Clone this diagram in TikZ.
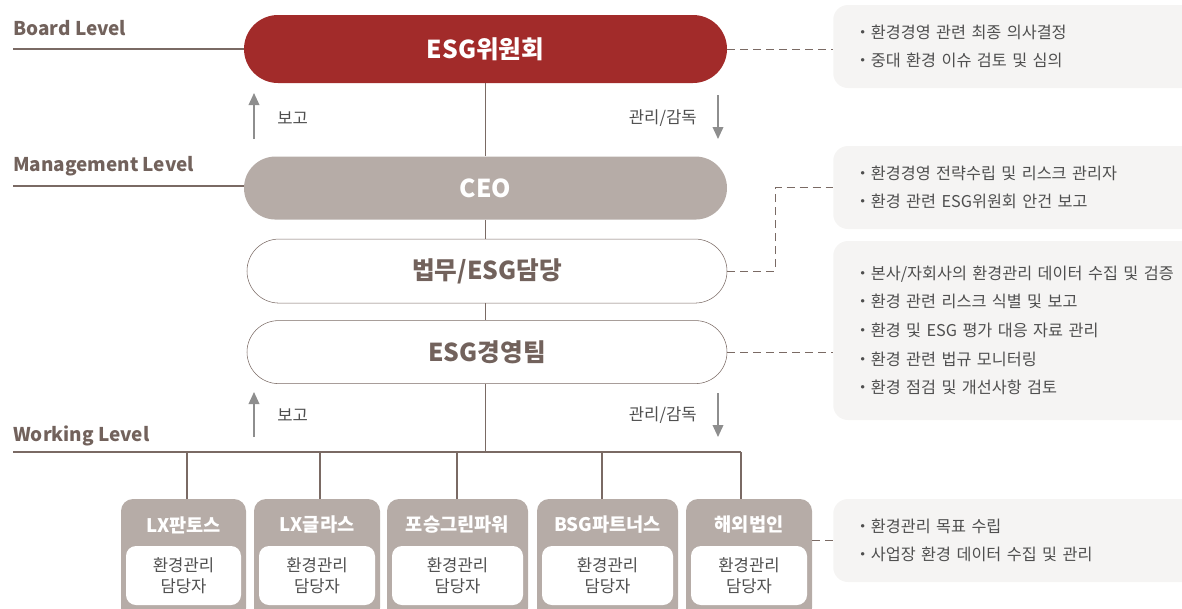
\documentclass[tikz,border=0pt]{standalone}
\usepackage{fontspec}
\setmainfont{Noto Sans CJK KR}
\usetikzlibrary{positioning,shapes.misc,arrows.meta,calc}

\definecolor{esgred}{HTML}{A22B2A}
\definecolor{ceogray}{HTML}{B6ACA7}
\definecolor{linebrown}{HTML}{7A6A64}
\definecolor{labelbrown}{HTML}{72625C}
\definecolor{arrowgray}{HTML}{8E8E8E}
\definecolor{notebg}{HTML}{F5F4F3}
\definecolor{notetext}{HTML}{4F4F4F}

\tikzset{
  pill/.style={rounded rectangle, minimum width=362.25pt, inner sep=0pt,
    font=\fontsize{18.5}{21}\selectfont\bfseries},
  levellabel/.style={anchor=base west, inner sep=0pt, text=labelbrown,
    font=\fontsize{14.2}{16}\selectfont\bfseries},
  orgline/.style={draw=linebrown, line width=0.8pt},
  dashline/.style={draw=linebrown, line width=0.75pt, dash pattern=on 6pt off 3.75pt},
  flowarrow/.style={draw=arrowgray, line width=1.1pt, -{Triangle[length=9pt,width=8pt]}},
  flowlabel/.style={inner sep=0pt, text=notetext, font=\fontsize{12.5}{14}\selectfont},
  notebox/.style={anchor=west, fill=notebg, rounded corners=11pt, text width=252pt,
    inner xsep=16pt, align=left, text=notetext, font=\fontsize{12.2}{21.5}\selectfont},
  subbox/.style={fill=ceogray, rounded corners=9pt, minimum height=90.75pt, inner sep=0pt},
  subhead/.style={inner sep=0pt, text=white, font=\fontsize{14}{16}\selectfont\bfseries},
  subinner/.style={fill=white, rounded corners=7.5pt, minimum height=44.25pt, inner sep=0pt,
    align=center, text=notetext, font=\fontsize{12.5}{15.75}\selectfont}
}

\begin{document}
\begin{tikzpicture}[x=0.75pt, y=-0.75pt]
\useasboundingbox (0,0) rectangle (1182,608);

% levels
\node[levellabel] (boardlvl) at (13,35) {Board Level};
\node[levellabel] (mgmtlvl) at (13,171) {Management Level};
\node[levellabel] (worklvl) at (13,441) {Working Level};

% main chain
\node[pill, fill=esgred, text=white, minimum height=51pt] (committee) at (485.5,49) {ESG위원회};
\node[pill, fill=ceogray, text=white, minimum height=47.25pt, below=54.75pt of committee] (ceo) {CEO};
\node[pill, draw=linebrown, fill=white, text=labelbrown, minimum height=48pt, minimum width=360pt,
  below=14.25pt of ceo, xshift=1.125pt] (legal) {법무/ESG담당};
\node[pill, draw=linebrown, fill=white, text=labelbrown, minimum height=47.25pt, minimum width=360pt,
  below=12.75pt of legal] (team) {ESG경영팀};

\coordinate (boardline) at (13,49);
\coordinate (mgmtline) at (13,186);
\coordinate (bus) at (13,452);
\draw[orgline] (boardline) -- (committee.west);
\draw[orgline] (mgmtline) -- (mgmtline -| ceo.west);
\draw[orgline] (committee.south) -- (ceo.north);
\draw[orgline] (ceo.south) -- (ceo.south |- legal.north);
\draw[orgline] (legal.south -| ceo.south) -- (ceo.south |- team.north);
\draw[orgline] (team.south -| ceo.south) -- (bus -| ceo.south);

% report / supervise arrows
\coordinate (rep1a) at (254,139); \coordinate (rep1b) at (254,93);
\coordinate (sup1a) at (718,95);  \coordinate (sup1b) at (718,139);
\coordinate (rep2a) at (254,437); \coordinate (rep2b) at (254,392);
\coordinate (sup2a) at (718,393); \coordinate (sup2b) at (718,437);
\draw[flowarrow] (rep1a) -- (rep1b);
\draw[flowarrow] (sup1a) -- (sup1b);
\draw[flowarrow] (rep2a) -- (rep2b);
\draw[flowarrow] (sup2a) -- (sup2b);
\node[flowlabel, anchor=west] (rep1t) at (277,118) {보고};
\node[flowlabel, anchor=east] (sup1t) at (697,118) {관리/감독};
\node[flowlabel, anchor=west] (rep2t) at (277,415) {보고};
\node[flowlabel, anchor=east] (sup2t) at (697,415) {관리/감독};

% subsidiaries
\foreach \n/\cx/\w/\lx/\name in {1/183.5/125/187/LX판토스, 2/317/126/320/LX글라스,
    3/457.5/141/457/포승그린파워, 4/607.5/141/602/BSG파트너스, 5/749/126/741/해외법인}{
  \node[subbox, minimum width=\w*0.75pt] (sub\n) at (\cx,559.5) {};
  \node[subhead] (head\n) at (\cx,525) {\name};
  \node[subinner, minimum width=(\w-10)*0.75pt] (inner\n) at (\cx,575.5) {환경관리\\담당자};
  \coordinate (drop\n) at (\lx,499);
  \draw[orgline] (drop\n) -- (drop\n |- bus);
}
\draw[orgline] (bus) -- (bus -| drop5);

% notes
\node[notebox, minimum height=62.25pt] (info1) at (833,46.5)
  {・환경경영 관련 최종 의사결정\\・중대 환경 이슈 검토 및 심의};
\node[notebox, minimum height=62.25pt] (info2) at (833,187.5)
  {・환경경영 전략수립 및 리스크 관리자\\・환경 관련 ESG위원회 안건 보고};
\node[notebox, minimum height=134.25pt] (info3) at (833,330.5)
  {・본사/자회사의 환경관리 데이터 수집 및 검증\\・환경 관련 리스크 식별 및 보고\\・환경 및 ESG 평가 대응 자료 관리\\・환경 관련 법규 모니터링\\・환경 점검 및 개선사항 검토};
\node[notebox, minimum height=62.25pt] (info4) at (833,540.5)
  {・환경관리 목표 수립\\・사업장 환경 데이터 수집 및 관리};

\draw[dashline] (committee.east) -- (committee.east -| info1.west);
\draw[dashline] (legal.east) -- ([xshift=36pt]legal.east) |- (info2.west);
\draw[dashline] (team.east) -- (team.east -| info3.west);
\draw[dashline] (info4.west -| sub5.east) -- (info4.west);
\end{tikzpicture}
\end{document}
